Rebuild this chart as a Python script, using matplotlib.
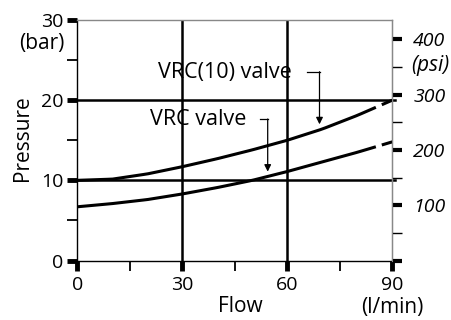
import numpy as np
import matplotlib
matplotlib.use("Agg")
import matplotlib.pyplot as plt
from matplotlib.ticker import FixedLocator

plt.rcParams['font.family'] = ['Open Sans', 'DejaVu Sans']

flow = [0, 10, 20, 30, 40, 50, 60, 70, 80, 90]
vrc10 = [10.0, 10.15, 10.8, 11.7, 12.7, 13.8, 15.0, 16.4, 18.1, 20.0]
vrc = [6.7, 7.1, 7.6, 8.3, 9.1, 10.0, 11.1, 12.3, 13.5, 14.8]

x_major = [0, 30, 60, 90]
x_minor = [15, 45, 75]
y_major = [0, 10, 20, 30]
y_minor = [5, 15, 25]
psi_major = [100, 200, 300, 400]
psi_minor = [50, 150, 250, 350]
psi_all_major = [0, 100, 200, 300, 400]
BAR_TO_PSI = 14.5038

W, H = 451, 320
fig = plt.figure(figsize=(W / 100, H / 100), dpi=100)
x0, x1, ytop, ybot = 77.3, 392.3, 20.0, 260.5
ax = fig.add_axes([x0 / W, (H - ybot) / H, (x1 - x0) / W, (ybot - ytop) / H])
ax.set_xlim(0, 90)
ax.set_ylim(0, 30)

fs_tick = 14
fs_lab = 15
fs_ann = 15.5

# grid lines
for g in [10, 20]:
    ax.plot([0, 90.7], [g, g], color='black', lw=1.8, clip_on=False, zorder=2)
for g in [30, 60]:
    ax.axvline(g, color='black', lw=1.8, zorder=2)

# curves: solid part then final dash
fx = np.array(flow, dtype=float)
for ys in [vrc10, vrc]:
    ya = np.array(ys, dtype=float)
    xs1 = np.linspace(0, 85.3, 60)
    ax.plot(xs1, np.interp(xs1, fx, ya), color='black', lw=2.2, zorder=3, solid_capstyle='butt')
    xs2 = np.linspace(87.0, 90, 10)
    ax.plot(xs2, np.interp(xs2, fx, ya), color='black', lw=2.2, zorder=3, solid_capstyle='butt')

# spines
ax.spines['left'].set_linewidth(1.0)
ax.spines['bottom'].set_linewidth(1.0)
ax.spines['top'].set_color('#888888')
ax.spines['top'].set_linewidth(1.0)
ax.spines['right'].set_color('#888888')
ax.spines['right'].set_linewidth(1.0)

ax.xaxis.set_major_locator(FixedLocator(x_major))
ax.xaxis.set_minor_locator(FixedLocator(x_minor))
ax.yaxis.set_major_locator(FixedLocator(y_major))
ax.yaxis.set_minor_locator(FixedLocator(y_minor))
ax.tick_params(axis='both', which='major', direction='out', length=7, width=3.5,
               labelsize=fs_tick, color='black', pad=3)
ax.tick_params(axis='both', which='minor', direction='out', length=7, width=1.3, color='black')
ax.tick_params(axis='x', which='major', pad=4.5)

# right psi axis
ax2 = ax.twinx()
ax2.set_ylim(0, 30 * BAR_TO_PSI)
ax2.yaxis.set_major_locator(FixedLocator(psi_all_major))
ax2.yaxis.set_minor_locator(FixedLocator(psi_minor))
ax2.set_yticklabels([''] + [str(v) for v in psi_major], fontstyle='italic')
ax2.tick_params(axis='y', which='major', direction='out', length=7.5, width=3, labelsize=fs_tick, pad=7.5)
ax2.tick_params(axis='y', which='minor', direction='out', length=7.5, width=1.0)
for s in ['left', 'top', 'bottom']:
    ax2.spines[s].set_visible(False)
ax2.spines['right'].set_color('#888888')

# labels
fig.text(22 / W, 1 - 138 / H, 'Pressure', rotation=90, ha='center', va='center', fontsize=fs_lab)
fig.text(65 / W, 1 - 43 / H, '(bar)', ha='right', va='center', fontsize=fs_lab)
fig.text(411 / W, 1 - 66 / H, '(psi)', ha='left', va='center', fontsize=fs_lab, fontstyle='italic')
fig.text(240 / W, 1 - 307 / H, 'Flow', ha='center', va='center', fontsize=fs_lab)
fig.text(361 / W, 1 - 307 / H, '(l/min)', ha='left', va='center', fontsize=fs_lab)

# annotations
ax.text(23.0, 23.5, 'VRC(10) valve', ha='left', va='center', fontsize=fs_ann)
ax.plot([65.5, 69.2], [23.5, 23.5], color='black', lw=0.9)
ax.annotate('', xy=(69.2, np.interp(69.2, fx, vrc10) + 0.7), xytext=(69.2, 23.55),
            arrowprops=dict(arrowstyle='-|>', color='black', lw=0.9, mutation_scale=10,
                            shrinkA=0, shrinkB=0))
ax.text(20.7, 17.6, 'VRC valve', ha='left', va='center', fontsize=fs_ann)
ax.plot([52.2, 54.4], [17.6, 17.6], color='black', lw=0.9)
ax.annotate('', xy=(54.4, np.interp(54.4, fx, vrc) + 0.6), xytext=(54.4, 17.65),
            arrowprops=dict(arrowstyle='-|>', color='black', lw=0.9, mutation_scale=10,
                            shrinkA=0, shrinkB=0))

fig.savefig('out.png', dpi=100)
